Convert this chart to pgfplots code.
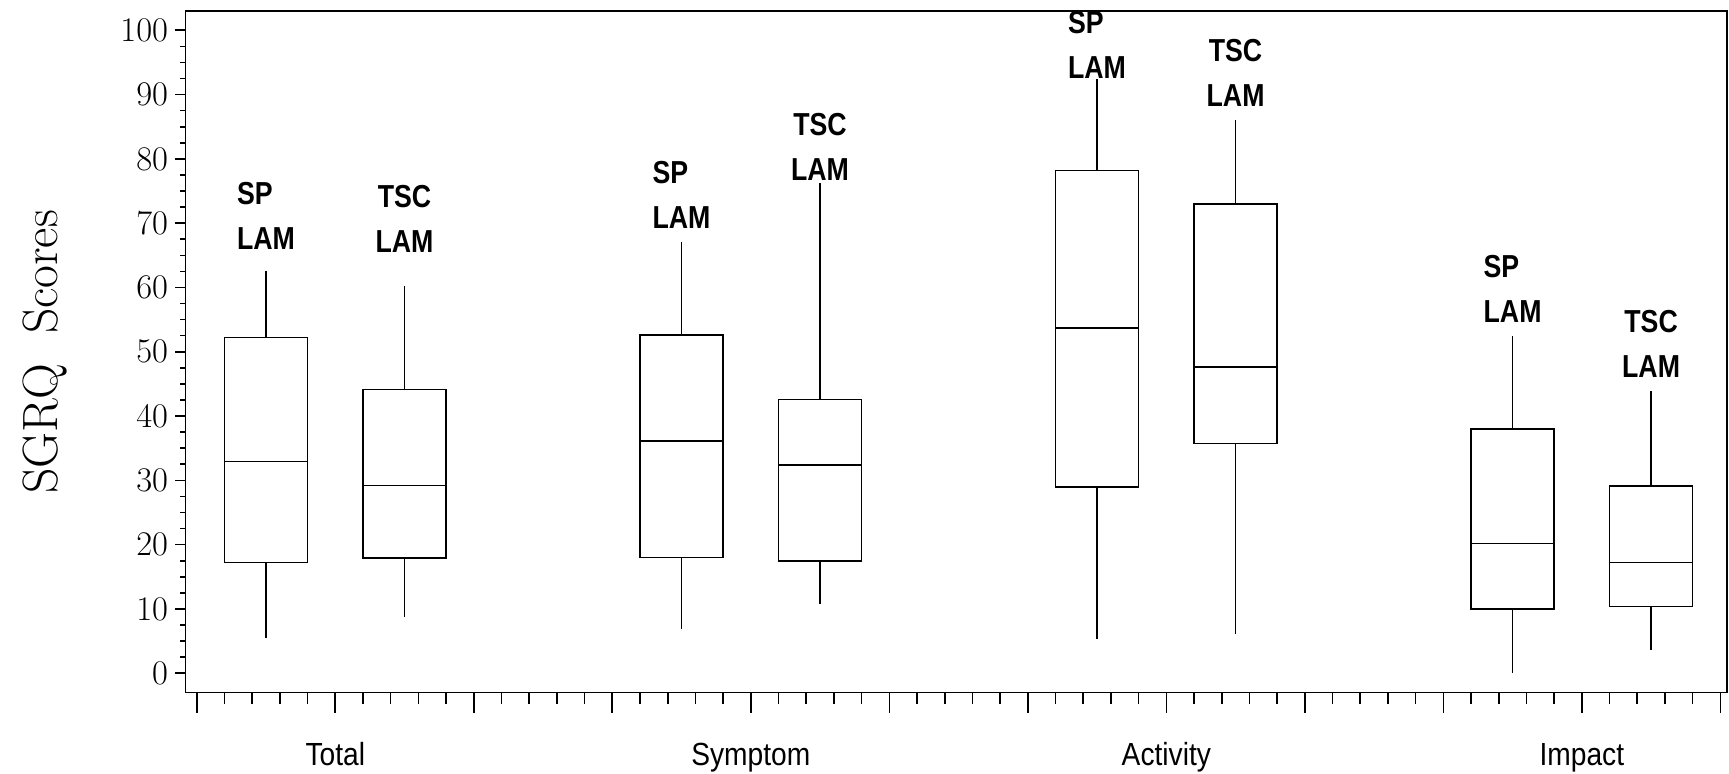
\documentclass[border=0pt]{standalone}
\usepackage{fontspec}
\usepackage{pgfplots}
\pgfplotsset{compat=1.18}
\usepgfplotslibrary{statistics}
\newfontfamily\labfont[FakeStretch=0.84]{Liberation Sans}
\newfontfamily\catfont[FakeStretch=0.88]{Liberation Sans}
\begin{document}
\begin{tikzpicture}
\pgfplotsset{
  common/.style={
    scale only axis, width=770.5pt, height=340.75pt,
    xmin=-0.08, xmax=11.046, ymin=-3, ymax=103,
    tick align=outside,
    tick style={black, line width=0.8pt},
  },
  bx/.style={black, line width=0.8pt, solid},
  bp/.style={boxplot prepared={draw direction=y, box extend=0.6, whisker extend=0, #1}},
}
\tikzset{
  lab/.style={anchor=south, inner sep=0pt, align=left,
    font=\labfont\bfseries\fontsize{15.9}{22.5}\selectfont},
  labc/.style={anchor=south, inner sep=0pt, align=center,
    font=\labfont\bfseries\fontsize{15.9}{22.5}\selectfont},
  cat/.style={anchor=base, inner sep=0pt, font=\catfont\fontsize{16}{18}\selectfont},
}
\begin{axis}[common,
  clip=false,
  axis line style={line width=0.8pt},
  xtick=\empty,
  ytick={0,10,...,100}, minor y tick num=3, ytick pos=left,
  major tick length=5.3pt, minor tick length=2.8pt,
  yticklabel style={font=\fontsize{17.3}{20}\selectfont},
  ylabel={SGRQ\ \ Scores},
  every axis y label/.style={at={(axis description cs:-0.091,0.5)}, rotate=90, anchor=center,
    font=\fontsize{24.8}{28}\selectfont},
]
% Total
\addplot[bx, bp={draw position=0.5,
  lower whisker=5.5, lower quartile=17.2, median=32.9, upper quartile=52.2, upper whisker=62.6}] coordinates {};
\addplot[bx, bp={draw position=1.5,
  lower whisker=8.7, lower quartile=17.9, median=29.2, upper quartile=44.1, upper whisker=60.2}] coordinates {};
% Symptom
\addplot[bx, bp={draw position=3.5,
  lower whisker=6.9, lower quartile=18.0, median=36.1, upper quartile=52.6, upper whisker=67.0}] coordinates {};
\addplot[bx, bp={draw position=4.5,
  lower whisker=10.8, lower quartile=17.5, median=32.4, upper quartile=42.6, upper whisker=76.2}] coordinates {};
% Activity
\addplot[bx, bp={draw position=6.5,
  lower whisker=5.3, lower quartile=29.0, median=53.7, upper quartile=78.2, upper whisker=92.5}] coordinates {};
\addplot[bx, bp={draw position=7.5,
  lower whisker=6.1, lower quartile=35.7, median=47.6, upper quartile=73.0, upper whisker=86.0}] coordinates {};
% Impact
\addplot[bx, bp={draw position=9.5,
  lower whisker=0.1, lower quartile=10.0, median=20.2, upper quartile=38.0, upper whisker=52.4}] coordinates {};
\addplot[bx, bp={draw position=10.5,
  lower whisker=3.6, lower quartile=10.4, median=17.2, upper quartile=29.1, upper whisker=43.9}] coordinates {};
% group labels
\node[lab]  at (axis cs:0.5,65.8)  {SP\\LAM};
\node[labc] at (axis cs:1.5,65.3)  {TSC\\LAM};
\node[lab]  at (axis cs:3.5,69.1)  {SP\\LAM};
\node[labc] at (axis cs:4.5,76.5)  {TSC\\LAM};
\node[lab]  at (axis cs:6.5,92.4)  {SP\\LAM};
\node[labc] at (axis cs:7.5,88.1)  {TSC\\LAM};
\node[lab]  at (axis cs:9.5,54.5)  {SP\\LAM};
\node[labc] at (axis cs:10.5,45.9) {TSC\\LAM};
% category labels
\node[cat] at (axis cs:1,-3)  [yshift=-36.7pt] {Total};
\node[cat] at (axis cs:4,-3)  [yshift=-36.7pt] {Symptom};
\node[cat] at (axis cs:7,-3)  [yshift=-36.7pt] {Activity};
\node[cat] at (axis cs:10,-3) [yshift=-36.7pt] {Impact};
\end{axis}
\begin{axis}[common,
  hide y axis,
  axis x line*=bottom,
  x axis line style={line width=0.8pt, -},
  xtick={0,1,...,11}, xticklabels={}, minor x tick num=4,
  tick align=outside,
  major tick length=10pt, minor tick length=5.7pt,
]
\end{axis}
\pgfresetboundingbox
\path (current axis.south west) ++(-92.85pt,-40.25pt) rectangle ++(864.5pt,386.5pt);
\end{tikzpicture}
\end{document}
